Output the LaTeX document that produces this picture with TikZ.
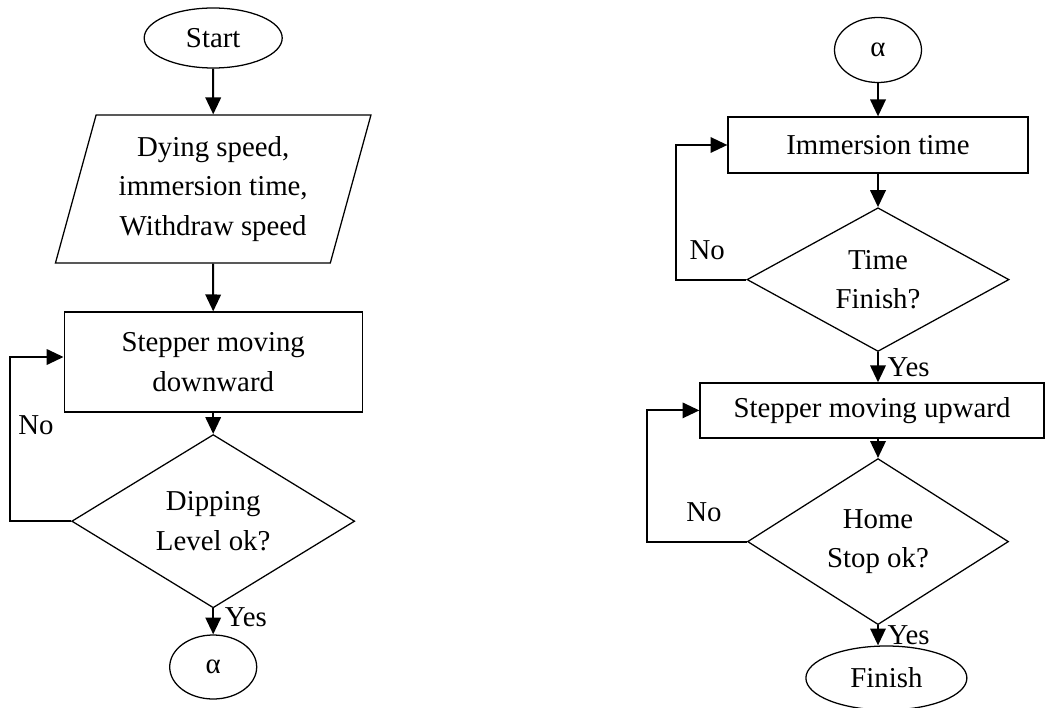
\documentclass[tikz,border=0pt]{standalone}
\usepackage{fontspec}
\setmainfont{Liberation Serif}
\usetikzlibrary{shapes.geometric}
\usetikzlibrary{arrows.meta}
\tikzset{>={Triangle[width=11pt,length=12pt]}}
\tikzset{
  chart/.style={draw=black, line width=0.9pt, align=center, inner sep=2pt, font=\fontsize{20.5}{28}\selectfont},
  termbox/.style={chart, ellipse},
  iobox/.style={chart, trapezium, trapezium left angle=73, trapezium right angle=107, trapezium stretches=true},
  procbox/.style={chart, rectangle},
  testbox/.style={chart, diamond, inner sep=0pt},
  flow/.style={->, line width=1.4pt},
  lbl/.style={font=\fontsize{20.5}{28}\selectfont}
}
\begin{document}
\begin{tikzpicture}
    \useasboundingbox (0,0) rectangle (26.15,-17.7);

    % left column
    \node[termbox, minimum width=3.45cm, minimum height=1.5cm] (Start) at (5.33,-0.95) {Start};
    \node[iobox, minimum width=7.9cm, minimum height=3.7cm] (Input) at (5.33,-4.725) {Dying speed,\\immersion time,\\Withdraw speed};
    \node[procbox, minimum width=7.45cm, minimum height=2.5cm] (StepDown) at (5.33,-9.05) {Stepper moving\\downward};
    \node[testbox, minimum width=7.075cm, minimum height=3.4cm] (Dip) at (5.33,-13.03) {Dipping\\Level ok?};
    \node[termbox, minimum width=2.175cm, minimum height=1.6cm] (Alpha-L) at (5.33,-16.675) {α};
    \node[lbl] (No-L) at (0.9,-10.62) {No};

    \draw[flow] (Start) -- (Input);
    \draw[flow] (Input) -- (StepDown);
    \draw[flow] (StepDown) -- (Dip);
    \draw[flow] (Dip) -- node[lbl, pos=0.35, right, xshift=0.15cm] {Yes} (Alpha-L);
    \draw[flow] (Dip.west) -- ++(-1.52,0) |- ([yshift=0.125cm]StepDown.west);

    % right column
    \node[termbox, minimum width=2.175cm, minimum height=1.625cm] (Alpha-R) at (21.95,-1.25) {α};
    \node[procbox, minimum width=7.5cm, minimum height=1.4cm] (ImmTime) at (21.95,-3.625) {Immersion time};
    \node[testbox, minimum width=6.55cm, minimum height=2.875cm] (TimeFin) at (21.95,-6.99) {Time\\Finish?};
    \node[procbox, minimum width=8.6cm, minimum height=1.375cm] (StepUp) at (21.8,-10.26) {Stepper moving upward};
    \node[testbox, minimum width=6.525cm, minimum height=2.875cm] (HomeStop) at (21.95,-13.54) {Home\\Stop ok?};
    \node[termbox, minimum width=4.025cm, minimum height=1.6cm] (Finish) at (22.16,-16.95) {Finish};
    \node[lbl] (No-R1) at (17.68,-6.25) {No};
    \node[lbl] (No-R2) at (17.6,-12.8) {No};

    \draw[flow] (Alpha-R) -- (ImmTime);
    \draw[flow] (ImmTime) -- (TimeFin);
    \draw[flow] (TimeFin) -- node[lbl, midway, right, xshift=0.1cm] {Yes} (TimeFin |- StepUp.north);
    \draw[flow] (TimeFin.west) -- ++(-1.75,0) |- (ImmTime.west);
    \draw[flow] (StepUp.south -| HomeStop) -- (HomeStop);
    \draw[flow] (HomeStop) -- node[lbl, midway, right, xshift=0.1cm] {Yes} (HomeStop |- Finish.north);
    \draw[flow] (HomeStop.west) -- ++(-2.49,0) |- (StepUp.west);
\end{tikzpicture}
\end{document}
